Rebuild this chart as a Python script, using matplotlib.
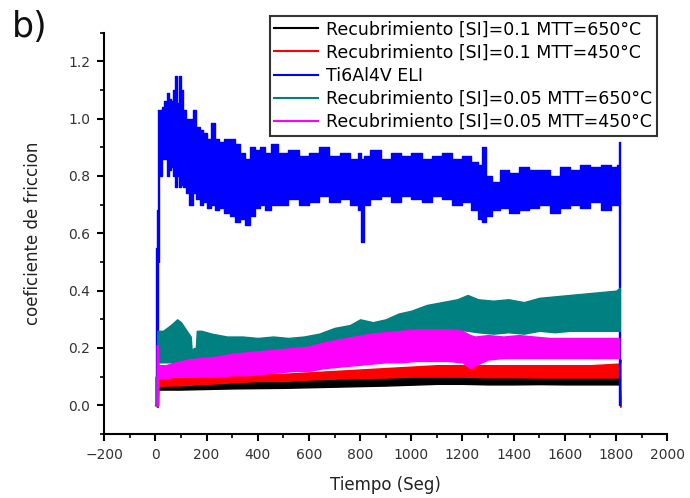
import numpy as np
import matplotlib
matplotlib.use("Agg")
import matplotlib.pyplot as plt
from matplotlib.lines import Line2D
from matplotlib.ticker import MultipleLocator

plt.rcParams["font.family"] = ["DejaVu Sans"]

# Ti6Al4V ELI (blue): time [s], upper / lower envelope of the noisy trace
blue_t = [0, 4, 8, 12, 20, 30, 40, 50, 58, 66, 74, 80, 88, 96, 104, 112, 125,
          140, 152, 165, 180, 195, 210, 225, 240, 260, 280, 300, 320, 340, 360,
          380, 400, 420, 440, 460, 500, 540, 580, 620, 660, 700, 740, 780, 800,
          810, 820, 860, 900, 940, 980, 1020, 1060, 1100, 1140, 1180, 1220,
          1250, 1270, 1285, 1300, 1330, 1360, 1400, 1440, 1480, 1520, 1560,
          1600, 1640, 1680, 1720, 1760, 1800, 1810, 1816]
blue_hi = [0.0, 0.55, 0.68, 1.03, 1.03, 1.04, 1.06, 1.09, 1.07, 1.06, 1.10,
           1.148, 1.055, 1.148, 1.10, 1.03, 1.00, 1.00, 1.03, 0.97, 0.96, 0.95,
           0.93, 0.985, 0.93, 0.92, 0.93, 0.93, 0.91, 0.88, 0.86, 0.90, 0.89,
           0.90, 0.88, 0.91, 0.88, 0.89, 0.87, 0.88, 0.90, 0.87, 0.88, 0.86,
           0.88, 0.86, 0.87, 0.89, 0.86, 0.88, 0.87, 0.88, 0.86, 0.87, 0.88,
           0.86, 0.87, 0.85, 0.84, 0.90, 0.80, 0.78, 0.82, 0.81, 0.83, 0.82,
           0.82, 0.80, 0.83, 0.82, 0.84, 0.83, 0.84, 0.83, 0.84, 0.92]
blue_lo = [0.0, 0.0, 0.0, 0.50, 0.80, 0.86, 0.86, 0.80, 0.82, 0.83, 0.80, 0.76,
           0.80, 0.76, 0.77, 0.76, 0.74, 0.70, 0.74, 0.72, 0.70, 0.71, 0.69,
           0.70, 0.68, 0.69, 0.67, 0.66, 0.64, 0.65, 0.63, 0.66, 0.69, 0.70,
           0.68, 0.70, 0.70, 0.72, 0.70, 0.71, 0.73, 0.71, 0.72, 0.70, 0.68,
           0.57, 0.70, 0.72, 0.73, 0.71, 0.73, 0.72, 0.71, 0.73, 0.72, 0.70,
           0.71, 0.68, 0.65, 0.64, 0.66, 0.68, 0.69, 0.67, 0.68, 0.69, 0.70,
           0.67, 0.69, 0.70, 0.69, 0.71, 0.68, 0.70, 0.70, 0.0]

# [SI]=0.05 MTT=650C (teal)
teal_t = [0, 6, 8, 30, 60, 85, 100, 115, 130, 138, 142, 150, 158, 162, 180, 220,
          280, 340, 400, 460, 520, 580, 640, 700, 760, 800, 850, 900, 950, 1000,
          1060, 1120, 1180, 1220, 1260, 1320, 1380, 1440, 1500, 1560, 1620,
          1680, 1740, 1800, 1815]
teal_hi = [0.10, 0.10, 0.26, 0.26, 0.28, 0.30, 0.29, 0.27, 0.25, 0.24, 0.19,
           0.20, 0.20, 0.26, 0.26, 0.25, 0.24, 0.24, 0.235, 0.24, 0.235, 0.24,
           0.25, 0.27, 0.28, 0.30, 0.29, 0.30, 0.32, 0.33, 0.35, 0.36, 0.37,
           0.385, 0.37, 0.365, 0.37, 0.36, 0.375, 0.38, 0.385, 0.39, 0.395,
           0.40, 0.41]
teal_lo = [0.0, 0.0, 0.15, 0.15, 0.15, 0.14, 0.14, 0.13, 0.13, 0.13, 0.13, 0.13,
           0.13, 0.13, 0.14, 0.16, 0.17, 0.17, 0.18, 0.19, 0.19, 0.20, 0.21,
           0.225, 0.235, 0.24, 0.245, 0.25, 0.255, 0.26, 0.26, 0.265, 0.265,
           0.26, 0.255, 0.25, 0.255, 0.25, 0.26, 0.255, 0.26, 0.26, 0.26, 0.26,
           0.26]

# [SI]=0.05 MTT=450C (magenta)
mag_t = [5, 10, 12, 40, 80, 130, 180, 240, 300, 360, 420, 480, 540, 600, 660,
         720, 780, 840, 900, 960, 1020, 1080, 1140, 1200, 1230, 1250, 1300,
         1360, 1420, 1480, 1540, 1600, 1660, 1720, 1780, 1812]
mag_hi = [0.21, 0.21, 0.14, 0.14, 0.15, 0.16, 0.165, 0.17, 0.18, 0.185, 0.19,
          0.195, 0.20, 0.205, 0.22, 0.23, 0.24, 0.25, 0.255, 0.26, 0.265, 0.265,
          0.265, 0.26, 0.245, 0.24, 0.245, 0.24, 0.245, 0.24, 0.235, 0.235,
          0.235, 0.235, 0.235, 0.235]
mag_lo = [0.0, 0.0, 0.095, 0.095, 0.10, 0.10, 0.10, 0.10, 0.105, 0.105, 0.11,
          0.115, 0.12, 0.12, 0.13, 0.135, 0.14, 0.145, 0.15, 0.15, 0.155, 0.155,
          0.155, 0.15, 0.13, 0.14, 0.16, 0.165, 0.165, 0.165, 0.165, 0.165,
          0.165, 0.165, 0.165, 0.165]

# [SI]=0.1 MTT=450C (red)
red_t = [5, 10, 12, 100, 200, 300, 400, 500, 600, 700, 800, 900, 1000, 1100,
         1200, 1300, 1400, 1500, 1600, 1700, 1800, 1814, 1817]
red_hi = [0.09, 0.09, 0.095, 0.095, 0.10, 0.105, 0.11, 0.11, 0.115, 0.12, 0.125,
          0.13, 0.135, 0.14, 0.14, 0.14, 0.14, 0.14, 0.14, 0.14, 0.145, 0.145,
          0.16]
red_lo = [-0.005, -0.005, 0.068, 0.07, 0.075, 0.08, 0.085, 0.085, 0.09, 0.093,
          0.095, 0.097, 0.10, 0.10, 0.10, 0.098, 0.098, 0.097, 0.097, 0.097,
          0.097, 0.097, -0.005]

# [SI]=0.1 MTT=650C (black)
blk_t = [14, 100, 200, 300, 400, 500, 600, 700, 800, 900, 1000, 1100, 1200,
         1300, 1400, 1500, 1600, 1700, 1800, 1815]
blk_hi = [0.08, 0.082, 0.085, 0.088, 0.09, 0.092, 0.094, 0.097, 0.10, 0.103,
          0.107, 0.11, 0.11, 0.11, 0.11, 0.11, 0.11, 0.11, 0.11, 0.11]
blk_lo = [0.055, 0.055, 0.057, 0.059, 0.06, 0.061, 0.063, 0.065, 0.067, 0.069,
          0.072, 0.075, 0.075, 0.073, 0.073, 0.074, 0.073, 0.073, 0.073, 0.073]

labels = ["Recubrimiento [SI]=0.1 MTT=650°C",
          "Recubrimiento [SI]=0.1 MTT=450°C",
          "Ti6Al4V ELI",
          "Recubrimiento [SI]=0.05 MTT=650°C",
          "Recubrimiento [SI]=0.05 MTT=450°C"]
colors = ["#000000", "#ff0000", "#0000ff", "#008080", "#ff00ff"]

series = [(blk_t, blk_hi, blk_lo, None), (red_t, red_hi, red_lo, None),
          (blue_t, blue_hi, blue_lo, "mid"), (teal_t, teal_hi, teal_lo, None),
          (mag_t, mag_hi, mag_lo, None)]

fig = plt.figure(figsize=(6.9, 4.98), dpi=100)
ax = fig.add_axes([0.151, 0.1285, 0.816, 0.806])

for (t, hi, lo, step), c in zip(series, colors):
    ax.fill_between(t, lo, hi, step=step, color=c, linewidth=1.0, edgecolor=c)

ax.set_xlim(-200, 2000)
ax.set_ylim(-0.1, 1.3)
ax.xaxis.set_major_locator(MultipleLocator(200))
ax.xaxis.set_minor_locator(MultipleLocator(100))
ax.set_yticks([0.0, 0.2, 0.4, 0.6, 0.8, 1.0, 1.2])
ax.yaxis.set_minor_locator(MultipleLocator(0.1))
ax.spines["top"].set_visible(False)
ax.spines["right"].set_visible(False)
for s in ("left", "bottom"):
    ax.spines[s].set_linewidth(1.5)
ax.tick_params(which="major", direction="out", length=5, width=1.5,
               labelsize=10, labelcolor="#333333", pad=5)
ax.tick_params(which="minor", direction="out", length=3, width=1.2)

ax.set_xlabel("Tiempo (Seg)", fontsize=12, color="#222222")
ax.set_ylabel("coeficiente de friccion", fontsize=12, color="#222222")
ax.xaxis.set_label_coords(0.5, -0.105)
ax.yaxis.set_label_coords(-0.11, 0.5)

handles = [Line2D([], [], color=c, lw=1.5) for c in colors]
leg = fig.legend(handles, labels, loc="upper left",
                 bbox_to_anchor=(270 / 690, 1 - 16 / 498),
                 bbox_transform=fig.transFigure, fontsize=12.5,
                 frameon=True, fancybox=False, borderaxespad=0,
                 handlelength=2.5, handletextpad=0.5, labelspacing=0.3,
                 borderpad=0.25)
leg.get_frame().set_edgecolor("black")
leg.get_frame().set_linewidth(1.5)

fig.text(12 / 690, 1 - 37 / 498, "b)", fontsize=25, color="#111111",
         va="baseline")

fig.savefig("out.png", dpi=100)
